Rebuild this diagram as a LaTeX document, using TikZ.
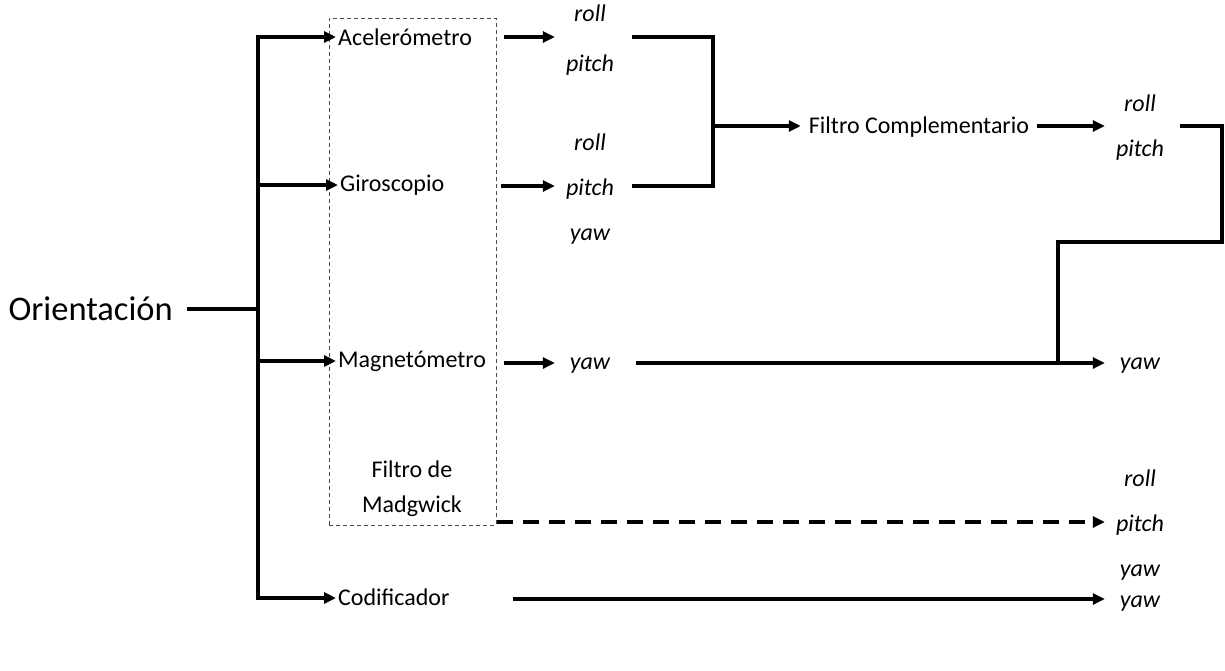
\documentclass[tikz,border=0pt]{standalone}
\usepackage{fontspec}
\setmainfont{Carlito}
\usetikzlibrary{arrows.meta}
\newcommand{\lblfont}{\fontsize{24}{28}\selectfont}
\newcommand{\varfont}{\fontsize{24}{45}\selectfont\itshape}
\begin{document}
\begin{tikzpicture}[x=1pt,y=-1pt,
  lbl/.style={font=\lblfont, inner sep=2pt},
  var/.style={font=\varfont, align=center, minimum width=70pt, inner sep=0pt},
  line/.style={line width=3.5pt},
  arr/.style={line width=3.5pt, -{Triangle[length=12pt,width=11pt]}},
  dasharr/.style={arr, dash pattern=on 16pt off 10pt},
  boxst/.style={draw=black!70, line width=1pt, dash pattern=on 4pt off 3pt, minimum width=167pt, minimum height=507pt, inner sep=0pt}]
\useasboundingbox (0,0) rectangle (1225,670);

% dashed group box
\node[boxst] (mbox) at (412.5,271.5) {};

% source
\node[font=\fontsize{34.5}{40}\selectfont, inner sep=2pt, anchor=east] (ori) at (175,309) {Orientación};

% sensor labels
\node[lbl, anchor=west] (acc) at (336,37) {Acelerómetro};
\node[lbl, anchor=west] (gir) at (338,185) {Giroscopio};
\node[lbl, anchor=west] (mag) at (336,361) {Magnetómetro};
\node[lbl, align=center, font=\fontsize{24}{35}\selectfont] (mad) at (412,489) {Filtro de\\Madgwick};
\node[lbl, anchor=west] (cod) at (336,597) {Codificador};

% variable groups (text sits 3px below the connector line)
\node[var] (g1) at (590,40) {roll\\[5pt]pitch};
\node[var] (g2) at (590,189) {roll\\pitch\\yaw};
\node[var] (g3) at (590,366) {yaw};
\node[lbl] (fc) at (919,127) {Filtro Complementario};
\node[var] (g4) at (1140,128) {roll\\pitch};
\node[var] (g5) at (1140,366) {yaw};
\node[var] (g6) at (1140,525) {roll\\pitch\\yaw};
\node[var] (g7) at (1140,604) {yaw};

\coordinate (g1w) at ([yshift=3pt]g1.west);
\coordinate (g1e) at ([yshift=3pt,xshift=7pt]g1.east);
\coordinate (g2w) at ([yshift=3pt]g2.west);
\coordinate (g2e) at ([yshift=3pt,xshift=7pt]g2.east);
\coordinate (g3w) at ([yshift=3pt]g3.west);
\coordinate (g3e) at ([yshift=3pt,xshift=11pt]g3.east);
\coordinate (g4w) at ([yshift=2pt]g4.west);
\coordinate (g4e) at ([yshift=2pt,xshift=5pt]g4.east);
\coordinate (g5w) at ([yshift=3pt]g5.west);
\coordinate (g6w) at ([yshift=3pt]g6.west);
\coordinate (g7w) at ([yshift=5pt]g7.west);

% bus coordinates
\coordinate (b0) at (258,309);
\coordinate (b1) at (258,37);
\coordinate (b2) at (258,185);
\coordinate (b3) at (258,361);
\coordinate (b4) at (258,598);
\coordinate (jx) at (713,126);
\coordinate (c1) at (1222,242);
\coordinate (c2) at (1058,363);

% orientation to bus
\draw[line] ([xshift=12pt]ori.east) -- (b0);
\draw[line] ([yshift=1.75pt]b1) -- ([yshift=-1.75pt]b4);
\draw[arr] ([xshift=-1.75pt]b1) -- (acc.west);
\draw[arr] (b2) -- (gir.west);
\draw[arr] (b3) -- (mag.west);
\draw[arr] ([xshift=-1.75pt]b4) -- (b4 -| cod.west);

% sensor outputs
\draw[arr] (mbox.east |- g1w) ++(7,0) -- (g1w);
\draw[arr] (mbox.east |- g2w) ++(4,0) -- (g2w);
\draw[arr] (mbox.east |- g3w) ++(7,0) -- (g3w);

% complementary filter bracket
\draw[line] (g1e) -| (jx) |- (g2e);
\draw[arr] (jx) -- ([xshift=-6pt]jx -| fc.west);
\draw[arr] ([xshift=6pt]g4w -| fc.east) -- (g4w);
\draw[line] (g4e) -| (c1) -| (c2);

% yaw from magnetometer
\draw[arr] (g3e) -- (g5w);

% Madgwick dashed
\draw[dasharr] (mbox.east |- g6w) -- (g6w);

% encoder
\draw[arr] (mbox.east |- g7w) ++(16,0) -- (g7w);
\end{tikzpicture}
\end{document}
